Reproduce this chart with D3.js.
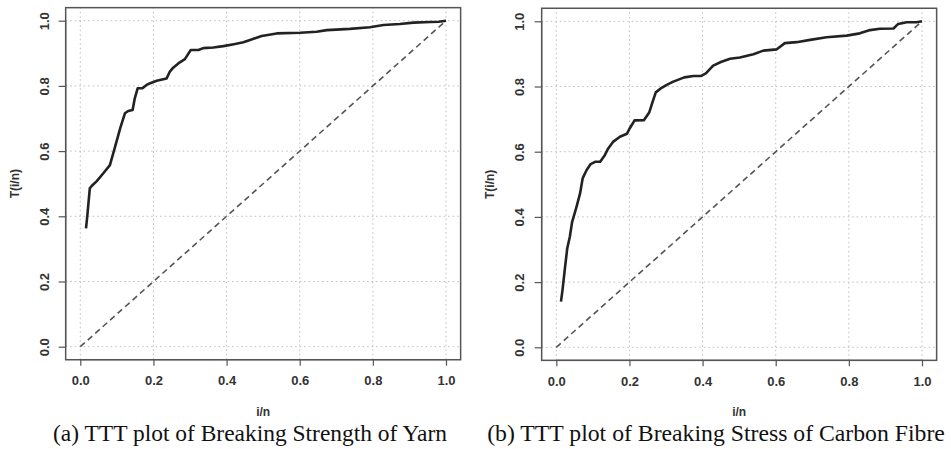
<!DOCTYPE html>
<html>
<head>
<meta charset="utf-8">
<script src="https://cdn.jsdelivr.net/npm/d3@7"></script>
<style>
  html, body { margin: 0; padding: 0; background: #fff; }
  svg { display: block; }
</style>
</head>
<body>
<svg id="chart" width="951" height="449"></svg>
<script>
// ---- data ----
const tickValues = [0, 0.2, 0.4, 0.6, 0.8, 1.0];
const xLabel = "i/n";
const yLabel = "T(i/n)";
const captions = ["(a) TTT plot of Breaking Strength of Yarn", "(b) TTT plot of Breaking Stress of Carbon Fibre"];

const yarnX = [0.0156, 0.019, 0.026, 0.031, 0.045, 0.063, 0.081, 0.095, 0.109, 0.122, 0.131, 0.143, 0.149, 0.157, 0.170, 0.181, 0.191, 0.209, 0.236, 0.245, 0.254, 0.268, 0.286, 0.302, 0.323, 0.336, 0.364, 0.391, 0.420, 0.446, 0.470, 0.496, 0.537, 0.601, 0.646, 0.674, 0.737, 0.792, 0.829, 0.874, 0.911, 0.957, 0.980, 1.0];
const yarnY = [0.363, 0.400, 0.486, 0.493, 0.508, 0.532, 0.557, 0.613, 0.670, 0.716, 0.723, 0.726, 0.762, 0.793, 0.793, 0.803, 0.808, 0.816, 0.823, 0.844, 0.856, 0.869, 0.882, 0.910, 0.910, 0.916, 0.918, 0.922, 0.928, 0.934, 0.943, 0.953, 0.961, 0.963, 0.966, 0.971, 0.975, 0.980, 0.987, 0.990, 0.994, 0.996, 0.997, 1.0];

const carbonX = [0.0128, 0.017, 0.024, 0.030, 0.037, 0.043, 0.056, 0.065, 0.072, 0.083, 0.094, 0.106, 0.120, 0.133, 0.142, 0.156, 0.174, 0.193, 0.201, 0.214, 0.240, 0.254, 0.262, 0.272, 0.288, 0.302, 0.320, 0.350, 0.375, 0.395, 0.409, 0.429, 0.450, 0.475, 0.502, 0.539, 0.566, 0.603, 0.625, 0.657, 0.694, 0.739, 0.794, 0.830, 0.858, 0.885, 0.922, 0.935, 0.958, 0.985, 1.0];
const carbonY = [0.140, 0.176, 0.247, 0.304, 0.339, 0.383, 0.434, 0.472, 0.518, 0.544, 0.562, 0.569, 0.569, 0.590, 0.610, 0.631, 0.646, 0.655, 0.672, 0.696, 0.697, 0.720, 0.748, 0.782, 0.796, 0.805, 0.815, 0.828, 0.832, 0.832, 0.840, 0.864, 0.875, 0.885, 0.889, 0.899, 0.910, 0.914, 0.933, 0.936, 0.943, 0.951, 0.956, 0.963, 0.973, 0.977, 0.978, 0.992, 0.997, 0.997, 1.0];

// ---- layout ----
const panels = [
  { x0: 80.3, x1: 446.0, y0: 346.7, y1: 20.7, tickLabX: 45, axisLabX: 15, capX: 250, xs: yarnX, ys: yarnY, cap: captions[0], capW: 394 },
  { x0: 556.3, x1: 922.0, y0: 347.3, y1: 21.3, tickLabX: 519.5, axisLabX: 490, capX: 716, xs: carbonX, ys: carbonY, cap: captions[1], capW: 458 }
];

const svg = d3.select("#chart");
const sansBold = "'Liberation Sans', Arial, Helvetica, sans-serif";

panels.forEach(p => {
  const x = d3.scaleLinear().domain([0, 1]).range([p.x0, p.x1]);
  const y = d3.scaleLinear().domain([0, 1]).range([p.y0, p.y1]);
  const g = svg.append("g");

  // grid
  tickValues.forEach(t => {
    g.append("line").attr("x1", x(t)).attr("x2", x(t)).attr("y1", y(-0.04)).attr("y2", y(1.04))
      .attr("stroke", "#bdbdbd").attr("stroke-width", 1).attr("stroke-dasharray", "1.5,3");
    g.append("line").attr("y1", y(t)).attr("y2", y(t)).attr("x1", x(-0.04)).attr("x2", x(1.04))
      .attr("stroke", "#bdbdbd").attr("stroke-width", 1).attr("stroke-dasharray", "1.5,3");
  });

  // diagonal
  g.append("path").datum([[0, 0], [1, 1]])
    .attr("d", d3.line().x(d => x(d[0])).y(d => y(d[1])))
    .attr("fill", "none").attr("stroke", "#555").attr("stroke-width", 1.6).attr("stroke-dasharray", "6,4");

  // TTT curve
  const pts = p.xs.map((v, i) => [v, p.ys[i]]);
  g.append("path").datum(pts)
    .attr("d", d3.line().x(d => x(d[0])).y(d => y(d[1])))
    .attr("fill", "none").attr("stroke", "#222").attr("stroke-width", 2.6).attr("stroke-linejoin", "round");

  // box
  g.append("rect").attr("x", x(-0.04)).attr("y", y(1.04))
    .attr("width", x(1.04) - x(-0.04)).attr("height", y(-0.04) - y(1.04))
    .attr("fill", "none").attr("stroke", "#555").attr("stroke-width", 1.5);

  // x axis
  const xa = g.append("g").attr("transform", `translate(0,${y(-0.04)})`)
    .call(d3.axisBottom(x).tickValues(tickValues).tickSize(6).tickPadding(10).tickFormat(d3.format(".1f")));
  xa.select(".domain").attr("stroke", "#555").attr("stroke-width", 1.2).attr("d", `M${x(0)},0H${x(1)}`);
  xa.selectAll(".tick line").attr("stroke", "#555").attr("stroke-width", 1.2);
  xa.selectAll(".tick text").attr("font-family", sansBold).attr("font-weight", "bold").attr("font-size", 13).attr("fill", "#333");

  // y axis
  const ya = g.append("g").attr("transform", `translate(${x(-0.04)},0)`)
    .call(d3.axisLeft(y).tickValues(tickValues).tickSize(7).tickFormat(d3.format(".1f")));
  ya.select(".domain").attr("stroke", "#555").attr("stroke-width", 1.2).attr("d", `M0,${y(0)}V${y(1)}`);
  ya.selectAll(".tick line").attr("stroke", "#555").attr("stroke-width", 1.2);
  ya.selectAll(".tick text")
    .attr("x", null).attr("dy", null)
    .attr("text-anchor", "middle").attr("dominant-baseline", "central")
    .attr("transform", `translate(${p.tickLabX - x(-0.04)},0) rotate(-90)`)
    .attr("font-family", sansBold).attr("font-weight", "bold").attr("font-size", 13).attr("fill", "#333");

  // axis labels
  g.append("text").attr("x", (x(0) + x(1)) / 2).attr("y", 412).attr("text-anchor", "middle")
    .attr("dominant-baseline", "central")
    .attr("font-family", sansBold).attr("font-weight", "bold").attr("font-size", 12).attr("fill", "#333").text(xLabel);
  g.append("text").attr("transform", `translate(${p.axisLabX},${(y(0) + y(1)) / 2}) rotate(-90)`)
    .attr("text-anchor", "middle").attr("dominant-baseline", "central")
    .attr("font-family", sansBold).attr("font-weight", "bold").attr("font-size", 12).attr("fill", "#333").text(yLabel);

  // caption
  const cap = g.append("text").attr("x", p.capX).attr("y", 441).attr("text-anchor", "middle")
    .attr("font-family", "'Liberation Serif', 'DejaVu Serif', serif").attr("font-size", 20).attr("fill", "#111").text(p.cap);
  const w = cap.node().getComputedTextLength();
  cap.attr("font-size", 20 * p.capW / w);
});
</script>
</body>
</html>
